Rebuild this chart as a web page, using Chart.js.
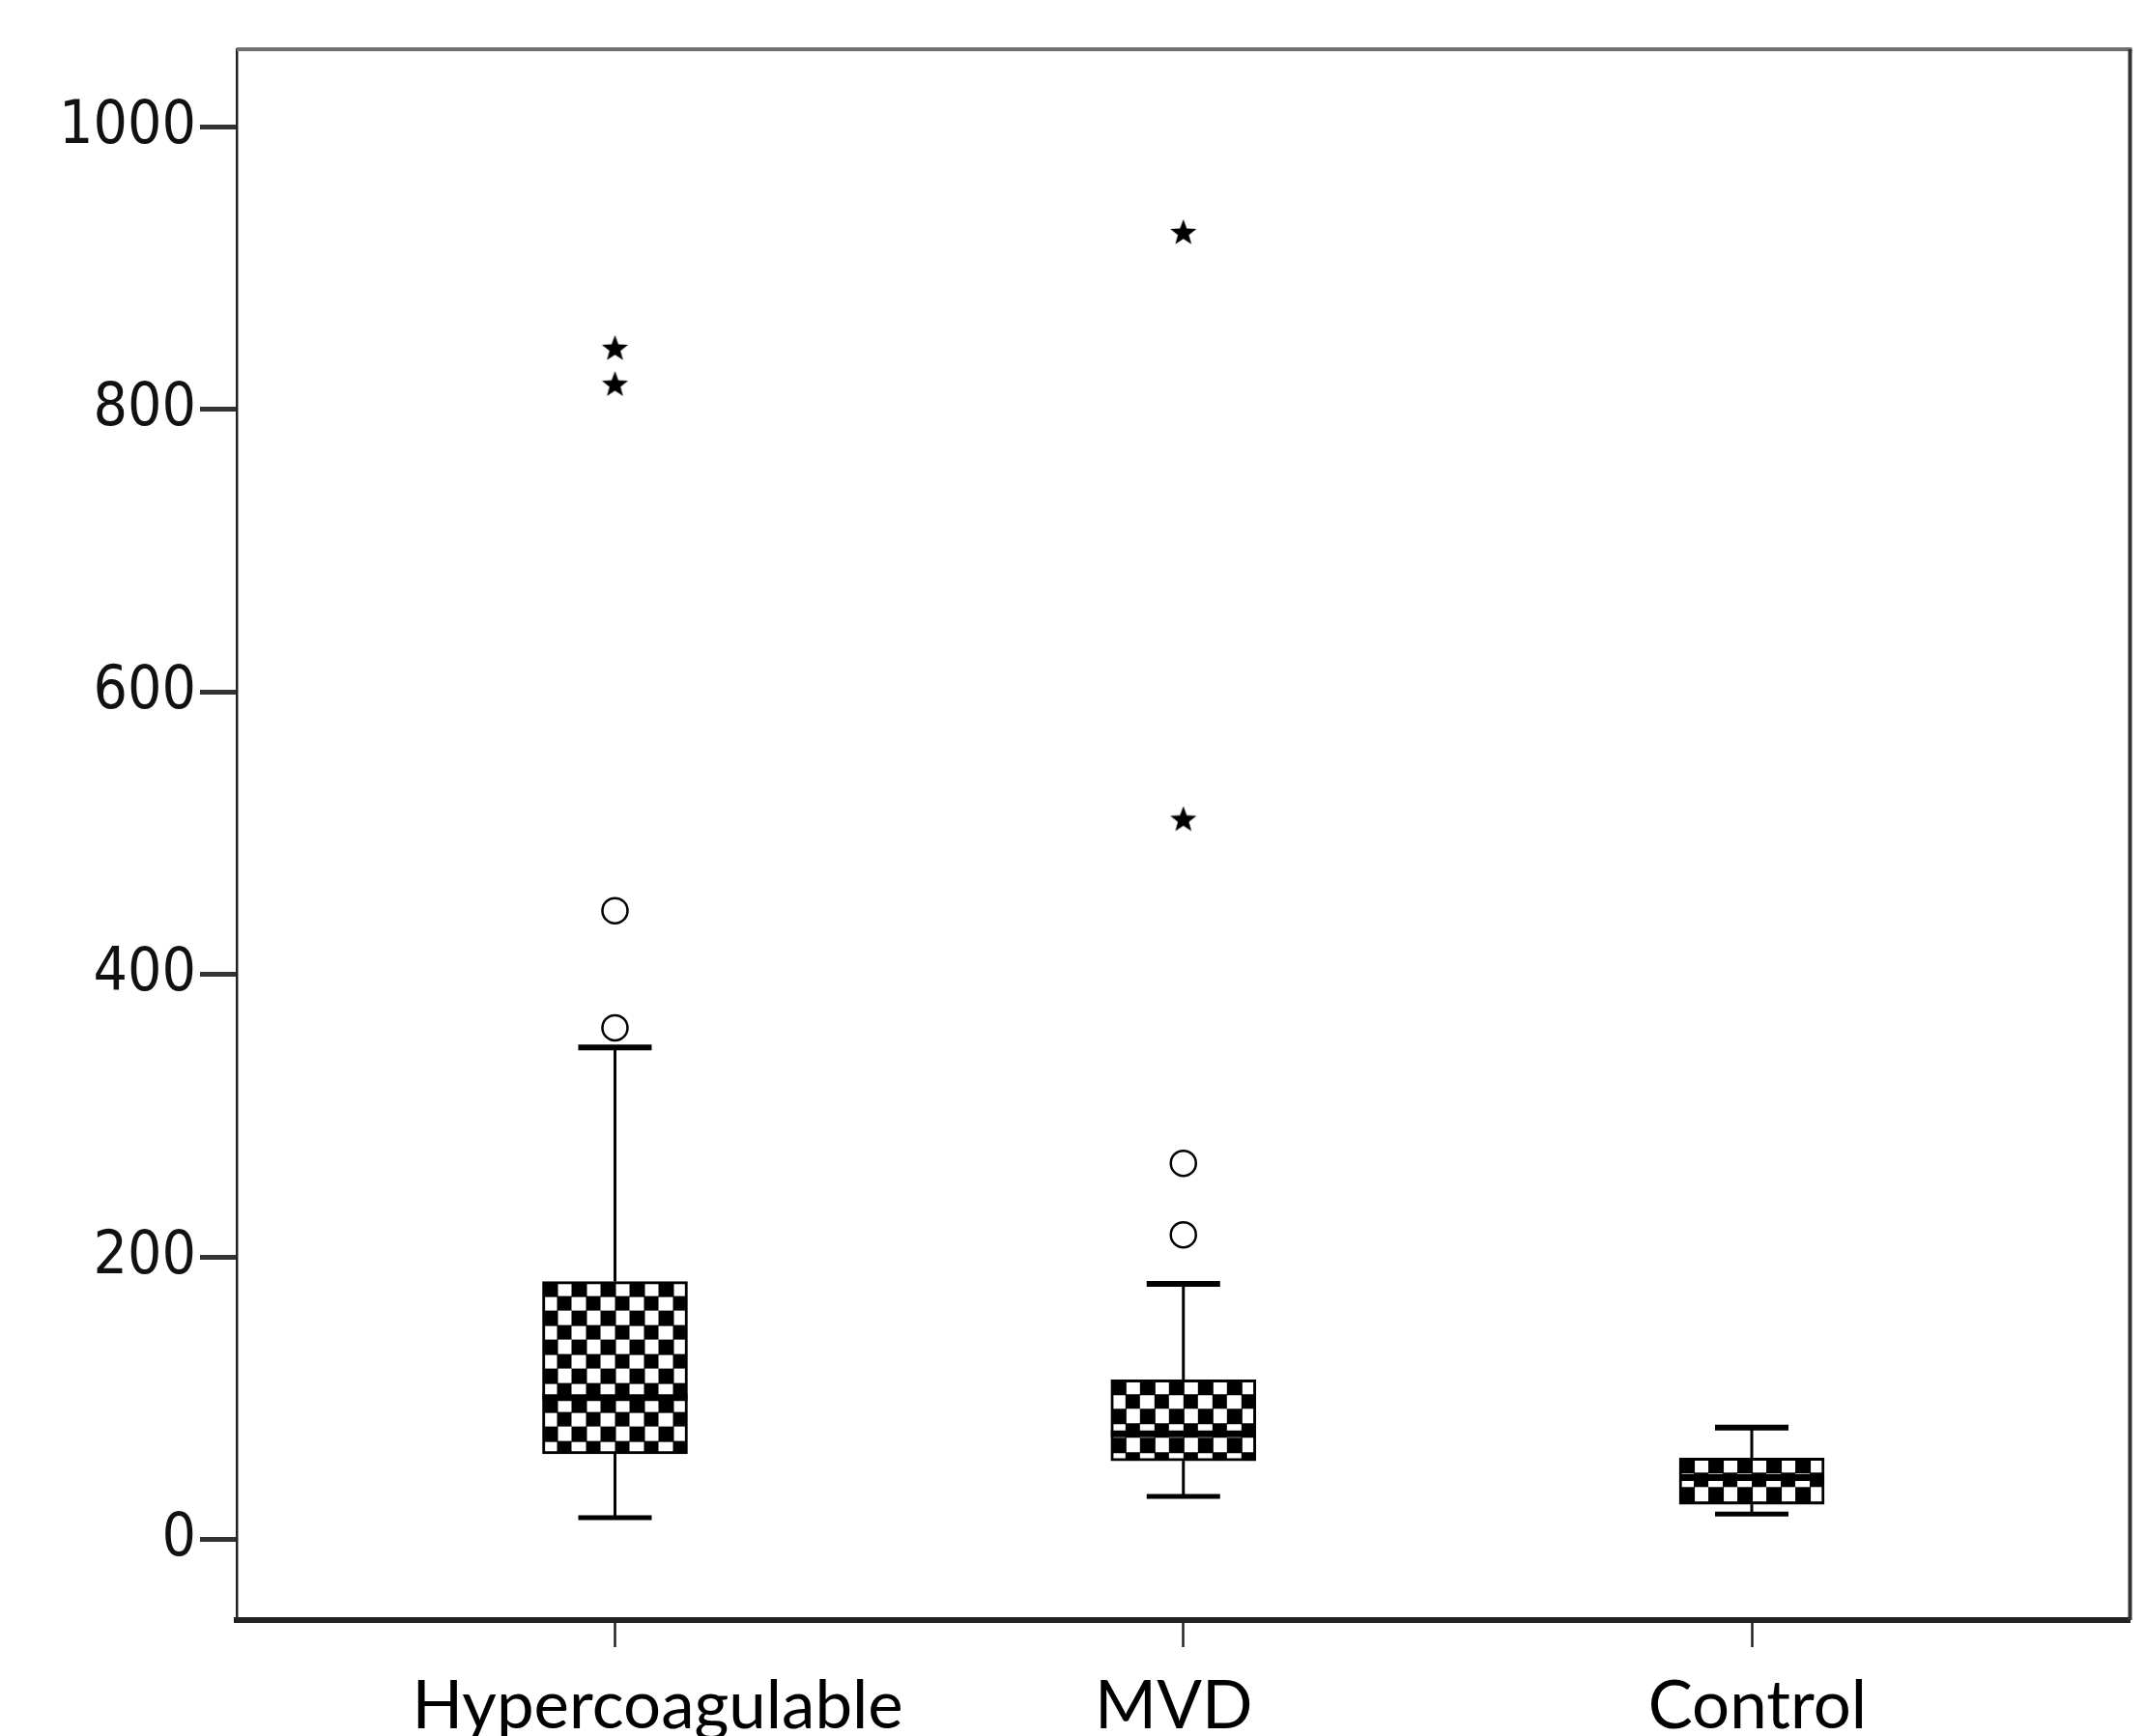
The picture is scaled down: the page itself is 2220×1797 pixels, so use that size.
<!DOCTYPE html>
<html>
<head>
<meta charset="utf-8">
<script src="https://cdn.jsdelivr.net/npm/chart.js@4.4.1/dist/chart.umd.min.js"></script>
<style>
  html, body { margin: 0; padding: 0; background: #fff; }
</style>
</head>
<body>
<canvas id="chart" width="2220" height="1797"></canvas>
<script>
// values (approximate)
const categories = ['Hypercoagulable', 'MVD', 'Control'];
const whiskerLow = [15.7, 30.8, 18.3];
const q1 = [60.9, 55.9, 25.1];
const medians = [100.7, 75, 44];
const q3 = [182.8, 113.3, 57.9];
const whiskerHigh = [348.5, 181.2, 79.5];
// outliers drawn as circles, extremes as stars: [category index, value]
const outliers = [[0, 445.3], [0, 362.4], [1, 266.5], [1, 215.9]];
const extremes = [[0, 843.8], [0, 818.3], [1, 925.8], [1, 510.4]];
const yTicks = [0, 200, 400, 600, 800, 1000];

// layout bits
const BOX_W = 150;
const CAP_W = 76;
const LABEL_SHIFT = [0.075, -0.017, 0.01]; // labels sit a bit off their tick marks

function checker(ctx, x0, y0) {
  const tile = document.createElement('canvas');
  tile.width = tile.height = 30;
  const t = tile.getContext('2d');
  t.fillStyle = '#fff';
  t.fillRect(0, 0, 30, 30);
  t.fillStyle = '#000';
  t.fillRect(0, 0, 16, 16);
  t.fillRect(15, 15, 16, 16);
  const p = ctx.createPattern(tile, 'repeat');
  p.setTransform(new DOMMatrix().translate(x0, y0));
  return p;
}

function starImage() {
  const c = document.createElement('canvas');
  c.width = c.height = 32;
  const g = c.getContext('2d');
  const cx = 16, cy = 17.3, ro = 14.2, ri = 6;
  g.beginPath();
  for (let k = 0; k < 10; k++) {
    const r = k % 2 ? ri : ro;
    const a = -Math.PI / 2 + k * Math.PI / 5;
    g.lineTo(cx + r * Math.cos(a), cy + r * Math.sin(a));
  }
  g.closePath();
  g.fillStyle = '#000';
  g.fill();
  return c;
}

const boxLines = {
  id: 'boxLines',
  beforeDatasetsDraw(chart) {
    const { ctx, scales: { x, y } } = chart;
    ctx.save();
    ctx.strokeStyle = '#000';
    const seg = (x1, y1, x2, y2, w) => {
      ctx.lineWidth = w;
      ctx.beginPath();
      ctx.moveTo(x1, y1);
      ctx.lineTo(x2, y2);
      ctx.stroke();
    };
    categories.forEach((_, i) => {
      const cx = x.getPixelForValue(i);
      const hi = y.getPixelForValue(whiskerHigh[i]);
      const lo = y.getPixelForValue(whiskerLow[i]);
      seg(cx, y.getPixelForValue(q3[i]), cx, hi, 3);
      seg(cx, y.getPixelForValue(q1[i]), cx, lo, 3);
      seg(cx - CAP_W / 2, hi, cx + CAP_W / 2, hi, 6);
      seg(cx - CAP_W / 2, lo, cx + CAP_W / 2, lo, 5);
    });
    ctx.restore();
  },
  afterDatasetsDraw(chart) {
    const { ctx, scales: { x, y } } = chart;
    ctx.save();
    ctx.strokeStyle = '#000';
    ctx.lineWidth = 7;
    categories.forEach((_, i) => {
      const cx = x.getPixelForValue(i);
      const m = y.getPixelForValue(medians[i]);
      ctx.beginPath();
      ctx.moveTo(cx - BOX_W / 2, m);
      ctx.lineTo(cx + BOX_W / 2, m);
      ctx.stroke();
    });
    ctx.restore();
  },
  afterDraw(chart) {
    // top and right sides of the frame
    const { ctx, chartArea: a } = chart;
    ctx.save();
    ctx.lineWidth = 4;
    ctx.strokeStyle = '#707070';
    ctx.beginPath();
    ctx.moveTo(a.left, a.top);
    ctx.lineTo(a.right + 2, a.top);
    ctx.stroke();
    ctx.strokeStyle = '#333';
    ctx.beginPath();
    ctx.moveTo(a.right, a.top);
    ctx.lineTo(a.right, a.bottom);
    ctx.stroke();
    ctx.restore();
  }
};

const star = starImage();

new Chart(document.getElementById('chart'), {
  type: 'bar',
  data: {
    datasets: [
      {
        type: 'bar',
        data: categories.map((c, i) => ({ x: i, y: [q1[i], q3[i]] })),
        barThickness: BOX_W,
        grouped: false,
        borderColor: '#000',
        borderWidth: 3,
        borderSkipped: false,
        backgroundColor: (c) => {
          const xs = c.chart.scales.x, ys = c.chart.scales.y;
          if (c.dataIndex === undefined || !xs || !ys) return '#fff';
          const i = c.dataIndex;
          return checker(c.chart.ctx, xs.getPixelForValue(i) - BOX_W / 2, ys.getPixelForValue(q3[i]));
        }
      },
      {
        type: 'scatter',
        data: outliers.map(([c, v]) => ({ x: c, y: v })),
        pointStyle: 'circle',
        pointRadius: 13,
        borderWidth: 2.5,
        borderColor: '#000',
        backgroundColor: 'rgba(0,0,0,0)'
      },
      {
        type: 'scatter',
        data: extremes.map(([c, v]) => ({ x: c, y: v })),
        pointStyle: star,
        pointRadius: 14
      }
    ]
  },
  options: {
    responsive: false,
    animation: false,
    devicePixelRatio: 1,
    layout: { padding: { top: 51, right: 13, left: 0, bottom: 0 } },
    plugins: { legend: { display: false }, tooltip: { enabled: false } },
    scales: {
      x: {
        type: 'linear',
        position: 'bottom',
        min: -0.6655,
        max: 2.6655,
        offset: false,
        weight: 0,
        afterBuildTicks: (s) => { s.ticks = categories.map((_, i) => ({ value: i })); },
        afterFit: (s) => { s.height = 30; },
        ticks: { display: false },
        grid: { offset: false, drawOnChartArea: false, drawTicks: true, tickLength: 28, tickWidth: 2.5, tickColor: '#222' },
        border: { display: true, width: 6, color: '#222' }
      },
      xLabels: {
        type: 'linear',
        position: 'bottom',
        axis: 'x',
        min: -0.6655,
        max: 2.6655,
        offset: false,
        weight: 1,
        afterBuildTicks: (s) => { s.ticks = categories.map((_, i) => ({ value: i + LABEL_SHIFT[i] })); },
        afterFit: (s) => { s.height = 90; },
        ticks: {
          autoSkip: false,
          maxRotation: 0,
          padding: 18,
          color: '#000',
          font: { family: 'Lato', size: 69 },
          callback: (v, i) => categories[i]
        },
        grid: { display: false, drawTicks: false, offset: false },
        border: { display: false }
      },
      y: {
        type: 'linear',
        min: -56.8,
        max: 1055,
        afterBuildTicks: (s) => { s.ticks = yTicks.map(v => ({ value: v })); },
        afterFit: (s) => { s.width = 245; },
        ticks: {
          padding: 4,
          color: '#111',
          font: { family: "'DejaVu Sans Condensed', 'DejaVu Sans', sans-serif", size: 62 },
          callback: (v) => String(v)
        },
        grid: { drawOnChartArea: false, drawTicks: true, tickLength: 38, tickWidth: 5, tickColor: '#333' },
        border: { display: true, width: 2.5, color: '#222' }
      }
    }
  },
  plugins: [boxLines]
});
</script>
</body>
</html>
